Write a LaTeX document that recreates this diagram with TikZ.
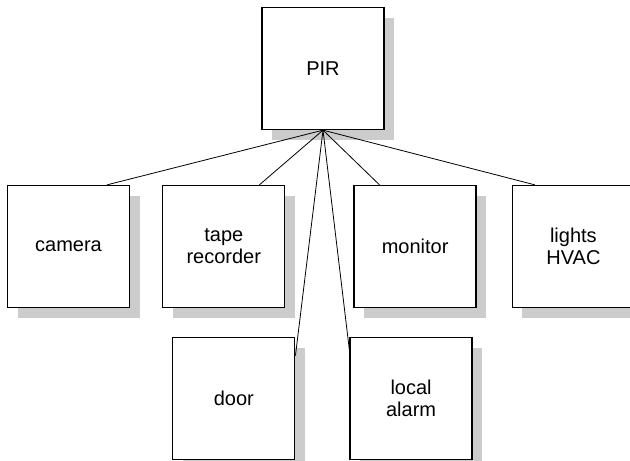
\documentclass[tikz,border=0pt]{standalone}
\usepackage{fontspec}
\setmainfont{Liberation Sans}
\usetikzlibrary{positioning,shadows}

\begin{document}
\begin{tikzpicture}[
  x=1pt, y=-1pt,
  node distance=29pt and 32pt,
  unit/.style={draw, line width=1.3pt, fill=white, minimum width=122pt, minimum height=122pt,
    align=center, inner sep=0pt, font=\fontsize{20}{22}\selectfont,
    drop shadow={shadow xshift=10pt, shadow yshift=-10pt, fill=black!20, opacity=1}},
  wire/.style={line width=0.8pt}
]
\useasboundingbox (0,0) rectangle (630,461);
\node[unit] (pir) at (323,68.5) {PIR};
\node[unit] (camera) at (68.5,246.5) {camera};
\node[unit, right=32pt of camera] (tape) {tape\\recorder};
\node[unit, right=68pt of tape] (monitor) {monitor};
\node[unit, right=35pt of monitor] (lights) {lights\\HVAC};
\node[unit, below=29pt of tape, xshift=10pt] (door) {door};
\node[unit, right=54pt of door] (alarm) {local\\alarm};
\draw[wire] (pir.south) -- (camera.58);
\draw[wire] (pir.south) -- (tape.60);
\draw[wire] (pir.south) -- (monitor.120);
\draw[wire] (pir.south) -- (lights.122);
\draw[wire] (pir.south) -- (door.35);
\draw[wire] (pir.south) -- (alarm.142);
\end{tikzpicture}
\end{document}
